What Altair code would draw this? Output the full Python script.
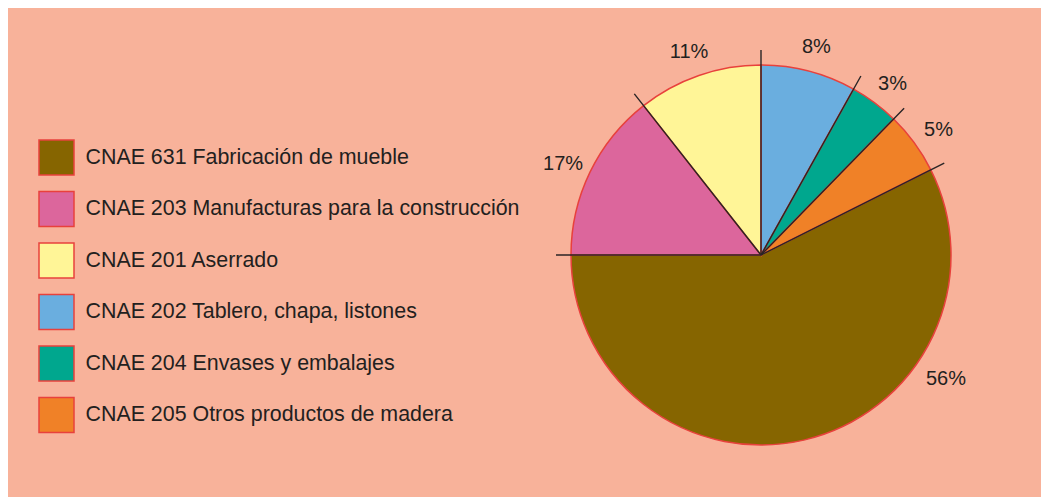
import altair as alt
import pandas as pd

# Slices clockwise from 12 o'clock (shares as drawn, labels as printed)
categories = [
    "CNAE 202 Tablero, chapa, listones",
    "CNAE 204 Envases y embalajes",
    "CNAE 205 Otros productos de madera",
    "CNAE 631 Fabricación de mueble",
    "CNAE 203 Manufacturas para la construcción",
    "CNAE 201 Aserrado",
]
shares = [8.1, 4.2, 5.3, 57.4, 14.4, 10.6]
labels = ["8%", "3%", "5%", "56%", "17%", "11%"]

legend_order = [
    "CNAE 631 Fabricación de mueble",
    "CNAE 203 Manufacturas para la construcción",
    "CNAE 201 Aserrado",
    "CNAE 202 Tablero, chapa, listones",
    "CNAE 204 Envases y embalajes",
    "CNAE 205 Otros productos de madera",
]
legend_colors = ["#866500", "#DC669C", "#FFF597", "#6AAEDF", "#00A78E", "#F08127"]

df = pd.DataFrame({
    "cat": categories,
    "value": shares,
    "label": labels,
    "idx": list(range(len(categories))),
})

CX, CY = 753, 247
FONT = "Liberation Sans"
TXT = "#231F20"
theta_scale = alt.Scale(domain=[0, 100], range=[0, 6.283185307179586])

base = alt.Chart(df).transform_window(
    cum="sum(value)", sort=[alt.SortField("idx")], frame=[None, 0]
).transform_calculate(
    start="datum.cum - datum.value",
    lab="datum.cum - datum.value + min(datum.value, 33) / 2",
)

pie = base.mark_arc(outerRadius=190, stroke="#E8413C", strokeWidth=1.5).encode(
    theta=alt.Theta("start:Q", scale=theta_scale, stack=None),
    theta2="cum:Q",
    color=alt.Color(
        "cat:N",
        scale=alt.Scale(domain=legend_order, range=legend_colors),
        legend=alt.Legend(
            title=None,
            orient="none",
            legendX=30,
            legendY=131,
            symbolType="square",
            symbolSize=1225,
            symbolStrokeColor="#E8413C",
            symbolStrokeWidth=1.5,
            symbolOpacity=1,
            labelFont=FONT,
            labelFontSize=21.4,
            labelColor=TXT,
            labelOffset=10.5,
            labelLimit=700,
            rowPadding=10.5,
            padding=0,
        ),
    ),
    x=alt.value(CX),
    y=alt.value(CY),
)

leaders = base.mark_arc(
    outerRadius=205, innerRadius=0, stroke="#2A2526", strokeWidth=1.4, fillOpacity=0
).encode(
    theta=alt.Theta("cum:Q", scale=theta_scale, stack=None),
    theta2="cum:Q",
    x=alt.value(CX),
    y=alt.value(CY),
)

text = base.mark_text(radius=220, dy=5, fontSize=20, font=FONT, color=TXT).encode(
    theta=alt.Theta("lab:Q", scale=theta_scale, stack=None),
    text="label:N",
    x=alt.value(CX),
    y=alt.value(CY),
)

chart = alt.layer(pie, leaders, text).properties(
    width=1033,
    height=489,
    padding=0,
    autosize=alt.AutoSizeParams(type="none"),
).configure(background="#F8B29A").configure_view(stroke=None)

chart.save("out.html", embed_options={"renderer": "svg", "actions": False})
